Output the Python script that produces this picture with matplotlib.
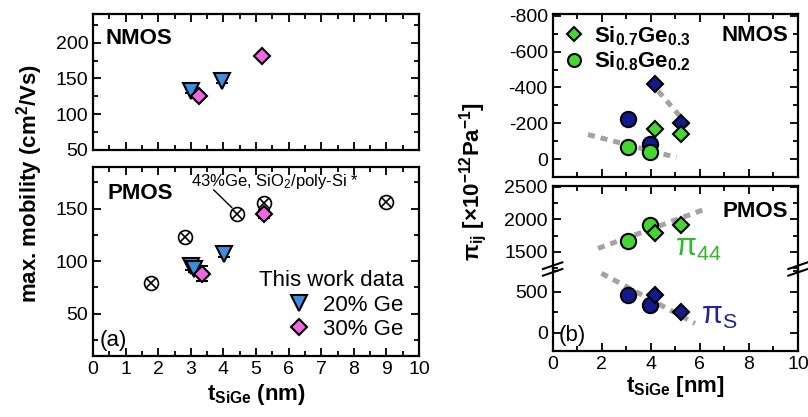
import matplotlib
matplotlib.use("Agg")
import matplotlib.pyplot as plt
from matplotlib.lines import Line2D
from matplotlib.ticker import MultipleLocator

plt.rcParams["font.family"] = ["Liberation Sans", "DejaVu Sans"]
plt.rcParams["mathtext.default"] = "regular"
plt.rcParams["axes.unicode_minus"] = False
plt.rcParams["font.size"] = 14

# ---- (a) max. mobility ----
n20_t = [3.02, 3.96]
n20_mu = [132, 146]
n30_t = [3.25, 5.17]
n30_mu = [126, 181]

p20_t = [3.0, 3.1, 4.01]
p20_mu = [95, 93, 107]
p30_t = [3.33, 5.23]
p30_mu = [88, 145]
p30_err = [7, 4]

ref_t = [1.79, 2.81, 4.43, 5.24, 8.99]
ref_mu = [79, 123, 145, 155, 156]

# ---- (b) piezoresistance coefficients ----
nmos_d_t = [4.19, 5.25]
nmos_d_green = [-170, -139]
nmos_d_blue = [-417, -202]
nmos_c_t = [3.07, 3.96]
nmos_c_blue = [-222, -82]
nmos_c_green = [-68, -37]
nmos_trend1_t = [1.44, 5.05]
nmos_trend1_v = [-137, -9]
nmos_trend2_t = [4.3, 5.66]
nmos_trend2_v = [-380, -165]

pmos_c_t = [3.07, 3.96]
pmos_c_p44 = [1669, 1921]
pmos_c_ps = [460, 339]
pmos_d_t = [4.16, 5.25]
pmos_d_p44 = [1783, 1910]
pmos_d_ps = [460, 250]
p44_trend_t = [1.85, 6.27]
p44_trend_v = [1552, 2167]
ps_trend_t = [1.99, 5.8]
ps_trend_v = [723, 117]

BLUE = "#3c8fe0"
PINK = "#f068e0"
GREEN = "#44d633"
NAVY = "#101a8c"
GRAY = "#a3a3a3"


def style(ax, xmaj, xmin, ymaj, ymin, top=True, bottom=True):
    ax.xaxis.set_major_locator(MultipleLocator(xmaj))
    ax.xaxis.set_minor_locator(MultipleLocator(xmin))
    ax.yaxis.set_major_locator(MultipleLocator(ymaj))
    ax.yaxis.set_minor_locator(MultipleLocator(ymin))
    ax.tick_params(which="both", direction="in", top=top, bottom=bottom,
                   left=True, right=True, width=1.3, labelsize=14)
    ax.tick_params(which="major", length=6)
    ax.tick_params(which="minor", length=3.5)
    for s in ax.spines.values():
        s.set_linewidth(1.6)


fig = plt.figure(figsize=(8.08, 4.17), dpi=100)

ax_n = fig.add_axes([0.1151, 0.6403, 0.4035, 0.3261])
ax_p = fig.add_axes([0.1151, 0.147, 0.4035, 0.4532])

mk = dict(markeredgecolor="black", markeredgewidth=1.5, linestyle="none")
eb = dict(ecolor="black", elinewidth=1, capsize=4, capthick=1)

ax_n.errorbar(n20_t, n20_mu, yerr=3, fmt="v", ms=11, color=BLUE, **mk, **eb)
ax_n.errorbar(n30_t, n30_mu, yerr=3, fmt="D", ms=8, color=PINK, **mk, **eb)
ax_n.set_xlim(0, 10)
ax_n.set_ylim(50, 240)
ax_n.set_xticklabels([])
style(ax_n, 1, 0.5, 50, 25)
ax_n.text(0.037, 0.82, "NMOS", transform=ax_n.transAxes, fontweight="bold",
          va="center", fontsize=16)

ax_p.plot(ref_t, ref_mu, "o", ms=10, mfc="none", mec="black", mew=1.2)
ax_p.plot(ref_t, ref_mu, "x", ms=7, mec="black", mew=1.2)
ax_p.errorbar(p20_t, p20_mu, yerr=3, fmt="v", ms=11, color=BLUE, **mk, **eb)
ax_p.errorbar(p30_t, p30_mu, yerr=p30_err, fmt="D", ms=8, color=PINK, **mk, **eb)
ax_p.set_xlim(0, 10)
ax_p.set_ylim(10, 190)
style(ax_p, 1, 0.5, 50, 25)
ax_p.text(0.046, 0.86, "PMOS", transform=ax_p.transAxes, fontweight="bold",
          va="center", fontsize=16)
ax_p.text(0.02, 0.083, "(a)", transform=ax_p.transAxes, va="center", fontsize=16)
ax_p.text(3.0, 176, "43%Ge, SiO$_2$/poly-Si *", fontsize=12, va="center")
ax_p.annotate("", xy=(4.26, 151), xytext=(3.7, 168),
              arrowprops=dict(arrowstyle="-", color="black", lw=1,
                              shrinkA=0, shrinkB=0))
handles = [Line2D([], [], marker="v", ms=11, color=BLUE, **mk),
           Line2D([], [], marker="D", ms=8, color=PINK, **mk)]
leg_a = ax_p.legend(handles, ["20% Ge", "30% Ge"], title="This work data",
                    loc="lower right", bbox_to_anchor=(1.0, 0.0), frameon=False,
                    fontsize=16, title_fontsize=16, handletextpad=0.5,
                    borderpad=0.2, labelspacing=0.15, handlelength=1.2)
leg_a._legend_box.align = "right"
ax_p.set_xlabel("t$_{SiGe}$ (nm)", fontweight="bold", fontsize=16, labelpad=3)
fig.text(0.036, 0.56, "max. mobility (cm$^{2}$/Vs)", rotation=90,
         fontweight="bold", fontsize=16, ha="center", va="center")

# ---- right panel ----
ax_rn = fig.add_axes([0.684, 0.5755, 0.3036, 0.391])
ax_rn.plot(nmos_trend1_t, nmos_trend1_v, color=GRAY, lw=3.6, ls=(0, (1.4, 1.2)))
ax_rn.plot(nmos_trend2_t, nmos_trend2_v, color=GRAY, lw=3.6, ls=(0, (1.4, 1.2)))
ax_rn.plot(nmos_c_t, nmos_c_blue, "o", ms=11, color=NAVY, **mk)
ax_rn.plot(nmos_d_t, nmos_d_blue, "D", ms=8, color=NAVY, **mk)
ax_rn.plot(nmos_d_t, nmos_d_green, "D", ms=8, color=GREEN,
           label="Si$_{0.7}$Ge$_{0.3}$", **mk)
ax_rn.plot(nmos_c_t, nmos_c_green, "o", ms=11, color=GREEN,
           label="Si$_{0.8}$Ge$_{0.2}$", **mk)
ax_rn.set_xlim(0, 10)
ax_rn.set_ylim(100, -810)
ax_rn.set_xticklabels([])
style(ax_rn, 2, 1, 200, 100)
ax_rn.text(0.96, 0.87, "NMOS", transform=ax_rn.transAxes, fontweight="bold",
           ha="right", va="center", fontsize=16)
ax_rn.legend(loc="upper left", frameon=False,
             prop=dict(weight="bold", size=16), handletextpad=0.4,
             borderaxespad=0.05, labelspacing=0.1, handlelength=1.0,
             markerscale=0.85)

ax_up = fig.add_axes([0.684, 0.3549, 0.3036, 0.199])
ax_lo = fig.add_axes([0.684, 0.1583, 0.3036, 0.1966])
for ax in (ax_up, ax_lo):
    ax.set_xlim(0, 10)
style(ax_up, 2, 1, 500, 250, top=True, bottom=False)
style(ax_lo, 2, 1, 500, 250, top=False, bottom=True)
ax_up.spines["bottom"].set_visible(False)
ax_lo.spines["top"].set_visible(False)
ax_up.set_xticklabels([])
ax_up.set_ylim(1234, 2515)
ax_lo.set_ylim(-218, 775)

ax_up.plot(p44_trend_t, p44_trend_v, color=GRAY, lw=3.6, ls=(0, (1.4, 1.2)))
ax_up.plot(pmos_c_t, pmos_c_p44, "o", ms=11, color=GREEN, **mk)
ax_up.plot(pmos_d_t, pmos_d_p44, "D", ms=8, color=GREEN, **mk)
ax_lo.plot(ps_trend_t, ps_trend_v, color=GRAY, lw=3.6, ls=(0, (1.4, 1.2)))
ax_lo.plot(pmos_c_t, pmos_c_ps, "o", ms=11, color=NAVY, **mk)
ax_lo.plot(pmos_d_t, pmos_d_ps, "D", ms=8, color=NAVY, **mk)

ax_up.text(0.96, 0.69, "PMOS", transform=ax_up.transAxes, fontweight="bold",
           ha="right", va="center", fontsize=16)
ax_up.text(4.98, 1560, r"$\pi_{44}$", color="#2fb82a", fontsize=22, va="center")
ax_lo.text(6.05, 200, r"$\pi_{S}$", color="#22229a", fontsize=22, va="center")
ax_lo.text(0.025, 0.19, "(b)", transform=ax_lo.transAxes, fontsize=16,
           va="center")
ax_lo.set_xlabel("t$_{SiGe}$ [nm]", fontweight="bold", fontsize=16, labelpad=1)

# break marks
for xa in (0.0, 1.0):
    xc = 0.684 + xa * 0.3036
    fig.patches.append(plt.Rectangle((xc - 0.006, 0.3549 - 0.008), 0.012, 0.016,
                                     color="white", transform=fig.transFigure,
                                     zorder=-1))
    for dy in (-0.008, 0.008):
        fig.lines.append(Line2D([xc - 0.012, xc + 0.012],
                                [0.3549 + dy - 0.008, 0.3549 + dy + 0.008],
                                color="black", lw=1.5, transform=fig.transFigure))

fig.text(0.586, 0.565, r"$\pi_{ij}$ [×10$^{-12}$Pa$^{-1}$]", rotation=90,
         fontweight="bold", fontsize=16, ha="center", va="center")

fig.savefig("out.png", dpi=100)
